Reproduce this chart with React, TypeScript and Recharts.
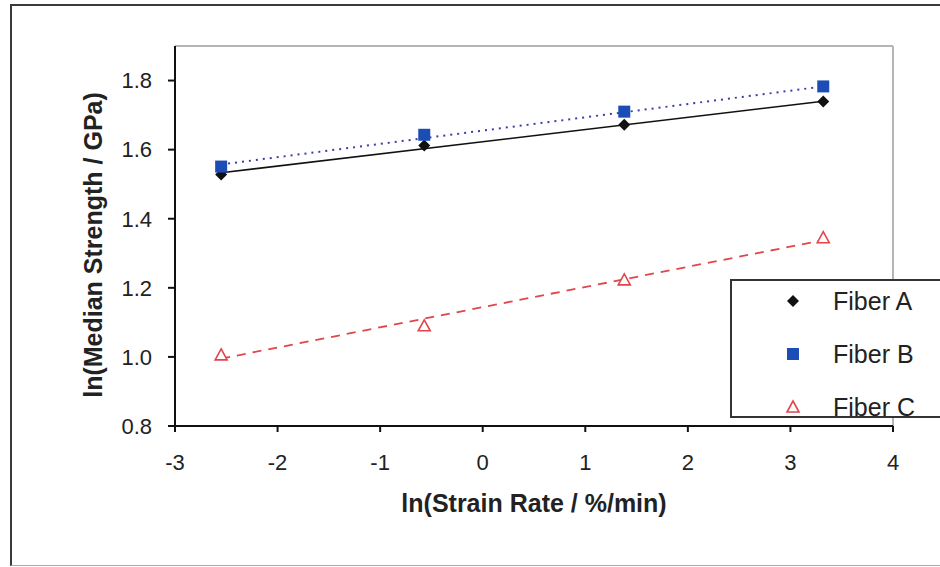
import React from 'react'
import {
  ScatterChart,
  Scatter,
  XAxis,
  YAxis,
  ReferenceLine,
} from 'recharts'

// ln(strain rate) positions of the four test series
const strainRates = [-2.55, -0.57, 1.38, 3.32]
const fiberA = [1.528, 1.612, 1.672, 1.739]
const fiberB = [1.551, 1.643, 1.71, 1.783]
const fiberC = [1.006, 1.09, 1.223, 1.345]

// trend line end points
const trendX = [-2.55, 3.32]
const trendA = [1.533, 1.74]
const trendB = [1.557, 1.783]
const trendC = [0.995, 1.338]

const xTicks = [-3, -2, -1, 0, 1, 2, 3, 4]
const yTicks = [0.8, 1.0, 1.2, 1.4, 1.6, 1.8]

const seriesNames = ['Fiber A', 'Fiber B', 'Fiber C']

const FONT = '"Liberation Sans", Arial, sans-serif'
const BLUE = '#1c4db6'
const RED = '#e0464b'
const TITLE_STYLE = { fill: '#222', fontSize: 25, fontWeight: 700, fontFamily: FONT }

const toPoints = (xs: number[], ys: number[]) => xs.map((x, i) => ({ x, y: ys[i] }))

const Diamond = ({ cx, cy }: any) => (
  <polygon points={`${cx},${cy - 6} ${cx + 6},${cy} ${cx},${cy + 6} ${cx - 6},${cy}`} fill="#111" />
)
const Square = ({ cx, cy }: any) => (
  <rect x={cx - 6} y={cy - 6} width={12} height={12} fill={BLUE} />
)
const Triangle = ({ cx, cy }: any) => (
  <polygon
    points={`${cx},${cy - 6} ${cx + 6},${cy + 5} ${cx - 6},${cy + 5}`}
    fill="#fff"
    stroke={RED}
    strokeWidth={1.6}
  />
)
const Nothing = () => <g />

const markers = [Diamond, Square, Triangle]

// rotated y title, a little below the plot centre like the original
const YTitle = ({ viewBox }: any) => {
  const x = viewBox.x + 87
  const y = viewBox.y + viewBox.height / 2 + 9
  return (
    <text
      x={x}
      y={y}
      transform={`rotate(-90, ${x}, ${y})`}
      textAnchor="middle"
      dominantBaseline="central"
      style={TITLE_STYLE}
    >
      ln(Median Strength / GPa)
    </text>
  )
}

export default function App() {
  return (
    <div
      style={{
        position: 'relative',
        width: 940,
        height: 567,
        background: '#fff',
        overflow: 'hidden',
        fontFamily: FONT,
      }}
    >
      <style>{`body{margin:0}`}</style>
      {/* outer chart frame */}
      <div
        style={{
          position: 'absolute',
          left: 10,
          top: 4,
          width: 960,
          height: 559,
          borderTop: '2px solid #3a3a3a',
          borderLeft: '2px solid #3a3a3a',
          borderBottom: '1px solid #aaa',
        }}
      />
      <div style={{ position: 'absolute', left: 0, top: 0 }}>
        <ScatterChart
          width={940}
          height={567}
          margin={{ top: 46, right: 47, bottom: 49, left: 6 }}
        >
          <XAxis
            type="number"
            dataKey="x"
            domain={[-3, 4]}
            ticks={xTicks}
            interval={0}
            allowDataOverflow
            height={92}
            stroke="#111"
            strokeWidth={2}
            tickSize={6}
            tickMargin={22}
            tick={{ fill: '#222', fontSize: 22, fontFamily: FONT }}
            label={{
              value: 'ln(Strain Rate / %/min)',
              position: 'insideBottom',
              offset: 6,
              style: TITLE_STYLE,
            }}
          />
          <YAxis
            type="number"
            dataKey="y"
            domain={[0.8, 1.9]}
            ticks={yTicks}
            interval={0}
            allowDataOverflow
            width={169}
            stroke="#111"
            strokeWidth={2}
            tickSize={7}
            tickMargin={16}
            tickFormatter={(v: number) => v.toFixed(1)}
            tick={{ fill: '#222', fontSize: 22, fontFamily: FONT }}
            label={{ content: YTitle }}
          />
          <ReferenceLine y={1.9} stroke="#b5b5b5" strokeWidth={2} />
          <ReferenceLine x={4} stroke="#b5b5b5" strokeWidth={2} />

          <Scatter
            data={toPoints(trendX, trendA)}
            line={{ stroke: '#111', strokeWidth: 1.6 }}
            shape={Nothing}
            legendType="none"
            isAnimationActive={false}
          />
          <Scatter
            data={toPoints(trendX, trendB)}
            line={{ stroke: '#3a3ea8', strokeWidth: 2, strokeDasharray: '2 5' }}
            shape={Nothing}
            legendType="none"
            isAnimationActive={false}
          />
          <Scatter
            data={toPoints(trendX, trendC)}
            line={{ stroke: RED, strokeWidth: 1.8, strokeDasharray: '9 7' }}
            shape={Nothing}
            legendType="none"
            isAnimationActive={false}
          />

          <Scatter data={toPoints(strainRates, fiberC)} shape={Triangle} isAnimationActive={false} />
          <Scatter data={toPoints(strainRates, fiberA)} shape={Diamond} isAnimationActive={false} />
          <Scatter data={toPoints(strainRates, fiberB)} shape={Square} isAnimationActive={false} />
        </ScatterChart>
      </div>

      {/* legend box */}
      <div
        style={{
          position: 'absolute',
          left: 730,
          top: 279,
          width: 230,
          height: 135,
          background: '#fff',
          border: '2px solid #333',
        }}
      >
        {seriesNames.map((name, i) => {
          const Marker = markers[i]
          return (
            <div
              key={name}
              style={{ position: 'absolute', left: 0, top: 5 + i * 53, height: 30, width: 220 }}
            >
              <svg width={30} height={30} style={{ position: 'absolute', left: 46, top: 0 }}>
                <Marker cx={15} cy={15} />
              </svg>
              <span
                style={{
                  position: 'absolute',
                  left: 101,
                  top: 0,
                  lineHeight: '30px',
                  fontSize: 25,
                  color: '#222',
                }}
              >
                {name}
              </span>
            </div>
          )
        })}
      </div>
    </div>
  )
}
